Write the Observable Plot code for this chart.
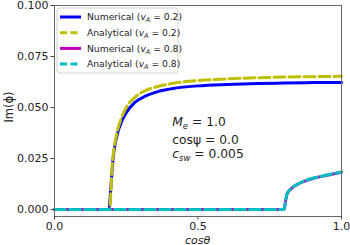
<!DOCTYPE html>
<html>
<head>
<meta charset="utf-8">
<script src="https://cdn.jsdelivr.net/npm/d3@7"></script>
<script src="https://cdn.jsdelivr.net/npm/@observablehq/plot@0.6"></script>
<style>
  html, body { margin: 0; padding: 0; background: #fff; }
  #chart svg { display: block; }
</style>
</head>
<body>
<div id="chart"></div>
<script>
// ---- data ----
const xTicks = [0, 0.5, 1.0];
const yTicks = [0, 0.025, 0.05, 0.075, 0.1];

const num02X = [0, 0.19, 0.195, 0.2, 0.205, 0.21, 0.22, 0.235, 0.25, 0.28, 0.32, 0.36, 0.42, 0.5, 0.6, 0.71, 0.8, 0.9, 1.0];
const num02Y = [0, 0, 0.008, 0.018, 0.026, 0.031, 0.0375, 0.0435, 0.0475, 0.0525, 0.0558, 0.0578, 0.0595, 0.0606, 0.0613, 0.0618, 0.0620, 0.0622, 0.0623];

const ana02X = [0, 0.192, 0.197, 0.2, 0.205, 0.21, 0.22, 0.235, 0.25, 0.28, 0.32, 0.36, 0.42, 0.5, 0.6, 0.71, 0.8, 0.9, 1.0];
const ana02Y = [0, 0, 0.010, 0.019, 0.027, 0.032, 0.039, 0.0455, 0.0500, 0.0550, 0.0585, 0.0603, 0.0620, 0.0632, 0.0640, 0.0646, 0.0649, 0.0651, 0.0653];

const num08X = [0, 0.8, 0.805, 0.81, 0.82, 0.84, 0.87, 0.9, 0.95, 1.0];
const num08Y = [0, 0, 0.004, 0.0075, 0.0095, 0.0118, 0.0138, 0.0152, 0.0168, 0.0183];

const ana08X = [0, 0.8, 0.805, 0.81, 0.82, 0.84, 0.87, 0.9, 0.95, 1.0];
const ana08Y = [0, 0, 0.004, 0.0076, 0.0096, 0.0119, 0.0139, 0.0153, 0.0169, 0.0184];

const seriesNames = ["Numerical", "Analytical", "Numerical", "Analytical"];
const seriesVA = ["0.2", "0.2", "0.8", "0.8"];
const seriesColors = ["#0000ff", "#bfbf00", "#bf00bf", "#00bfbf"];
const seriesDash = [null, "11,4", null, "11,4"];

const annoX = 0.412;
const annoY = [0.0405, 0.032, 0.0248];

// ---- build ----
const toRows = (xs, ys) => xs.map((x, i) => ({x, y: ys[i]}));
const series = [
  toRows(num02X, num02Y),
  toRows(ana02X, ana02Y),
  toRows(num08X, num08Y),
  toRows(ana08X, ana08Y)
];

const lineMarks = series.map((rows, i) => Plot.line(rows, {
  x: "x", y: "y",
  stroke: seriesColors[i],
  strokeWidth: 3,
  strokeDasharray: seriesDash[i] || undefined,
  curve: "monotone-x"
}));

const chart = Plot.plot({
  width: 350,
  height: 245,
  marginLeft: 54,
  marginRight: 9,
  marginTop: 5,
  marginBottom: 29,
  style: {fontFamily: "DejaVu Sans", fontSize: "11px", color: "#222", background: "#fff"},
  x: {domain: [0, 1]},
  y: {domain: [-0.00343, 0.1]},
  marks: [
    ...lineMarks,
    Plot.frame({stroke: "#666", strokeWidth: 1}),
    Plot.axisX({ticks: xTicks, tickFormat: d3.format(".1f"), tickSize: 3.5, tickPadding: 2, label: null, stroke: "#444"}),
    Plot.axisY({ticks: yTicks, tickFormat: d3.format(".3f"), tickSize: 3.5, tickPadding: 2.5, label: null, stroke: "#444"})
  ]
});

document.getElementById("chart").appendChild(chart);

const svg = d3.select(chart);
const xs = chart.scale("x"), ys = chart.scale("y");

// axis labels
svg.append("text")
  .attr("transform", "translate(13,107) rotate(-90)")
  .attr("text-anchor", "middle")
  .attr("font-family", "DejaVu Sans").attr("font-size", 11.5).attr("fill", "#222")
  .text("Im(ϕ)");

svg.append("text")
  .attr("x", xs.apply(0.5)).attr("y", 243.5)
  .attr("text-anchor", "middle")
  .attr("font-family", "DejaVu Sans").attr("font-style", "italic").attr("font-size", 11).attr("fill", "#222")
  .text("cosθ");

// legend
const lg = svg.append("g").attr("text-anchor", "start");
lg.append("rect").attr("x", 57).attr("y", 8).attr("width", 121).attr("height", 65).attr("rx", 3)
  .attr("fill", "#fff").attr("fill-opacity", 0.85).attr("stroke", "#d0d0d0").attr("stroke-width", 1);
seriesNames.forEach((name, i) => {
  const yy = 17 + i * 15.7;
  lg.append("line").attr("x1", 60).attr("x2", 81).attr("y1", yy).attr("y2", yy)
    .attr("stroke", seriesColors[i]).attr("stroke-width", 3)
    .attr("stroke-dasharray", seriesDash[i] ? "7,3.5" : null);
  const t = lg.append("text").attr("x", 87).attr("y", yy + 3.2)
    .attr("text-anchor", "start")
    .attr("font-family", "DejaVu Sans").attr("font-size", 9.2).attr("fill", "#222");
  t.append("tspan").text(name + " (");
  t.append("tspan").attr("font-style", "italic").text("v");
  t.append("tspan").attr("font-style", "italic").attr("font-size", 6.5).attr("dy", 2).text("A");
  t.append("tspan").attr("dy", -2).text(" = " + seriesVA[i] + ")");
});

// annotation
const ag = svg.append("g").attr("text-anchor", "start");
const ax = xs.apply(annoX);
const a1 = ag.append("text").attr("x", ax).attr("y", ys.apply(annoY[0])).attr("text-anchor", "start")
  .attr("font-family", "DejaVu Sans").attr("font-size", 12.3).attr("fill", "#222");
a1.append("tspan").attr("font-style", "italic").text("M");
a1.append("tspan").attr("font-style", "italic").attr("font-size", 8.5).attr("dy", 2.5).text("e");
a1.append("tspan").attr("dy", -2.5).text(" = 1.0");

ag.append("text").attr("x", ax).attr("y", ys.apply(annoY[1])).attr("text-anchor", "start")
  .attr("font-family", "DejaVu Sans").attr("font-size", 12.3).attr("fill", "#222")
  .text("cosψ = 0.0");

const a3 = ag.append("text").attr("x", ax).attr("y", ys.apply(annoY[2])).attr("text-anchor", "start")
  .attr("font-family", "DejaVu Sans").attr("font-size", 12.3).attr("fill", "#222");
a3.append("tspan").attr("font-style", "italic").text("c");
a3.append("tspan").attr("font-style", "italic").attr("font-size", 8.5).attr("dy", 2.5).text("sw");
a3.append("tspan").attr("dy", -2.5).text(" = 0.005");
</script>
</body>
</html>
